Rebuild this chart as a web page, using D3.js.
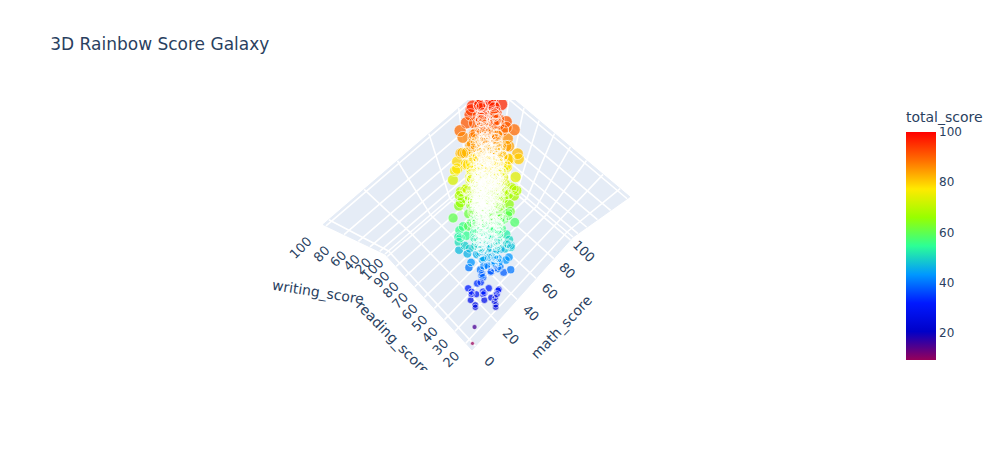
<!DOCTYPE html>
<html>
  <body style="margin:0;background:#fff">
    <script src="https://d3js.org/d3.v7.min.js"></script>
    <script type="text/javascript">
      const mathScore = [
        100,86,92,96,85,90,96,95,85,77,82,98,96,76,93,91,70,73,90,92,
        91,87,66,62,58,84,84,57,55,51,80,77,79,72,70,55,44,68,42,39,
        37,60,45,57,57,54,34,39,36,50,48,44,31,34,35,39,43,43,33,30,
        28,22,31,34,32,21,23,26,27,24,18,28,28,27,26,17,8,0,100,99,
        97,88,94,100,91,
        72,69,90,47,76,71,88,40,64,38, 58,40,65,78,50,69,88,18,46,54,
        66,65,44,69,74,73,69,67,70,62, 69,63,56,40,97,81,74,50,75,57,
        55,58,53,59,50,65,55,66,57,82, 53,77,53,88,71,33,82,52,58,79,
        39,62,69,59,67,45,60,61,39,58, 63,41,61,49,44,30,80,61,62,47,
        49,50,72,42,73,76,71,58,73,65, 27,71,43,79,78,65,63,58,65,79,
        68,85,60,98,58,87,66,52,70,77, 62,54,51,99,84,75,78,51,55,79,
        91,88,63,83,87,72,65,82,51,89, 53,87,75,74,58,51,70,59,71,76,
        59,42,57,88,22,88,73,68,100,62, 77,59,54,62,70,66,60,61,66,82,
        75,49,52,81,96,53,58,68,67,72, 94,79,63,43,81,46,71,52,97,62,
        46,50,65,45,65,80,62,48,77,66, 76,62,77,69,61,59,55,45,78,67,
        65,69,57,59,74,82,81,74,58,80, 35,42,60,87,84,83,34,66,61,56,
        87,55,86,52,45,72,57,68,88,76, 46,67,92,83,80,63,64,54,84,73,
        80,56,59,75,85,89,58,65,68,47, 71,60,80,54,62,64,78,70,65,64,
        68,74,57,63,71,66,79,60,55,84, 61,77,70,58,82,67,64,75,73,56,
        83,62,69,72,51,78,66,87,60,74, 65,70,76,59,68,81,57,73,62,79,
        54,67,75,63,86,71,60,69,77,64, 72,58,66,80,55,74,69,61,85,70,
        64,78,52,69,73,83,59,67,76,62, 77,63,68,56,81,65,72,88,60,71,
        66,74,61,79,57,69,84,63,75,53, 70,59,82,67,76,64,73,55,78,61,
        85,72,65,60,77,68,58,74,67,80, 51,64,71,75,62,83,69,56,79,66,
        73,60,67,86,55,70,78,63,92,68, 58,76,64,72,81,61,69,74,50,66,
        90,63,71,57,75,67,84,60,78,48, 69,80,56,65,73,62,77,83,47,70,
        61,75,68,54,79,66,71,59,86,64, 43,48,52,57,60,44,49,55,53,62,
        56,47,64,50,59,46,54,41,61,52, 91,94,86,93,89,97,85,90,95,92,
        82,86,78,90,84,75,88,92,80,83,
        40,44,47,51,38,45,49,42,53,46, 55,48,43,52,58,46,50,60,44,54,
        49,57,62,45,53,66,51,59,48,56, 60,52,47,64,56,50,68,58,63,45,
        71,57,64,79,53,68,74,61,83,66, 76,62,70,85,59,73,80,66,88,55,
        80,67,90,73,63,78,86,70,58,94, 56,69,74,61,49,66,78,52,71,59,
        43,50,55,47,60,41,52,57,46,63, 67,73,58,79,64,53,70,82,60,75
      ];
      const readingScore = [
        92,100,100,97,100,96,92,89,97,100,100,80,84,97,80,77,93,91,78,71,
        69,73,92,90,88,64,71,81,80,77,59,58,62,57,54,78,75,48,68,66,
        64,47,68,42,40,42,61,57,56,37,31,33,50,51,44,39,37,40,40,39,
        40,42,33,28,27,38,36,33,33,30,36,28,25,23,22,31,23,17,100,100,
        94,95,90,97,97,
        72,90,95,57,78,83,95,43,64,60, 54,52,81,72,53,75,89,32,42,58,
        69,75,54,73,71,74,54,69,70,70, 74,65,72,42,87,81,81,64,90,56,
        61,73,58,65,56,54,65,71,74,84, 55,69,44,78,84,41,85,55,59,74,
        39,61,80,58,64,37,72,58,64,63, 55,51,57,49,41,26,78,74,68,49,
        45,47,64,39,80,83,71,70,86,72, 34,79,45,86,81,66,72,67,67,67,
        74,91,44,86,67,100,63,76,64,89, 55,53,58,100,77,85,82,63,69,92,
        89,93,57,80,95,68,77,82,49,84, 37,74,81,79,55,54,55,66,61,72,
        62,55,43,73,39,84,68,75,100,67, 67,70,49,67,89,74,60,86,62,78,
        88,53,53,92,100,51,76,83,75,73, 88,86,67,51,91,54,77,70,100,68,
        64,50,69,52,67,76,66,52,88,65, 83,64,62,84,55,69,56,53,79,84,
        81,77,69,41,71,62,80,81,61,79, 28,62,51,91,83,86,42,77,56,68,
        85,65,80,66,56,72,50,72,95,64, 43,86,87,82,75,66,60,48,73,78,
        72,58,78,84,78,84,78,67,64,46, 72,68,73,48,56,74,69,75,67,79,
        73,70,68,71,69,78,77,66,61,85, 69,73,76,71,79,66,72,77,80,60,
        87,71,65,81,60,76,73,82,64,76, 72,74,73,67,70,84,63,69,73,71,
        62,64,79,61,90,74,70,78,81,68, 77,64,75,74,59,68,66,75,86,79,
        71,81,64,73,71,77,72,61,70,63, 82,70,77,65,75,74,70,90,67,66,
        68,80,71,83,58,79,79,62,72,66, 73,66,85,72,69,75,82,68,84,60,
        89,75,78,70,78,63,69,66,79,85, 57,73,80,70,72,88,68,62,87,76,
        76,69,62,84,63,78,75,74,89,71, 67,81,66,69,83,71,74,72,58,72,
        92,65,74,66,79,72,88,64,73,55, 72,83,64,76,66,66,80,80,54,76,
        61,68,78,59,82,70,68,60,81,65, 50,58,60,63,64,52,56,54,48,70,
        56,53,68,58,57,57,61,47,62,60, 96,92,90,90,98,95,92,97,93,100,
        90,83,85,88,91,83,94,86,87,89,
        47,52,49,56,44,44,55,51,52,43, 61,57,53,47,52,58,60,53,55,63,
        62,50,54,59,65,58,63,70,60,53, 71,64,61,55,68,66,60,73,54,58,
        81,72,75,69,66,83,64,76,74,81, 86,77,81,76,72,87,71,81,80,70,
        91,81,85,68,77,92,78,85,75,90, 63,62,67,70,60,60,70,66,64,67,
        42,45,49,41,54,48,46,52,39,57, 60,68,51,73,58,48,64,76,55,70
      ];
      const writingScore = [
        97,98,96,96,95,93,94,92,91,89,91,89,89,87,86,84,82,82,84,82,
        80,80,79,76,73,74,77,69,68,64,69,68,70,65,62,67,60,58,55,53,
        51,53,56,50,49,48,47,48,46,43,40,38,40,43,40,39,40,41,37,34,
        34,32,32,31,30,30,30,29,29,27,27,28,27,25,24,24,15,10,100,100,
        95,92,91,99,99,
        74,88,93,44,75,78,92,39,67,50, 52,43,73,70,58,78,86,28,46,61,
        63,70,53,73,80,72,55,75,65,75, 74,61,65,38,82,79,83,59,88,57,
        54,68,65,66,54,57,62,76,76,82, 48,68,42,75,87,43,86,49,58,72,
        34,55,71,59,61,37,74,56,57,73, 63,48,56,41,38,22,81,72,68,50,
        45,54,63,34,82,88,74,67,82,74, 36,71,50,92,82,62,70,62,62,67,
        74,89,47,90,72,100,61,70,72,98, 49,47,54,100,74,82,79,61,65,89,
        92,93,56,73,86,67,74,74,51,82, 40,70,71,80,48,41,56,67,69,71,
        64,54,47,78,33,75,66,81,93,69, 68,66,47,61,88,78,60,87,64,74,
        85,52,49,91,100,51,78,78,70,74, 78,81,70,54,87,58,77,62,100,75,
        66,47,70,49,65,65,68,45,87,69, 79,66,62,85,52,65,51,55,76,86,
        77,69,68,42,78,62,76,76,66,79, 27,60,56,81,75,88,39,70,56,74,
        73,62,75,73,54,71,54,64,94,66, 42,83,78,84,77,67,74,52,69,72,
        75,70,76,80,87,77,76,65,62,46, 74,61,70,52,53,74,68,78,61,81,
        75,72,64,68,66,73,80,64,62,80, 66,70,79,70,76,69,75,74,77,58,
        85,66,68,79,63,80,71,84,63,70, 69,71,75,64,72,88,66,71,67,78,
        60,68,77,60,83,73,67,76,83,71, 80,61,72,78,57,71,70,70,89,75,
        66,79,59,70,74,80,69,65,74,65, 78,67,73,67,79,71,73,87,64,69,
        72,77,68,80,61,75,83,68,78,63, 68,62,81,74,72,70,79,64,82,59,
        92,79,74,65,75,67,66,69,72,83, 55,70,77,73,69,85,71,60,84,74,
        71,65,66,89,60,74,81,70,91,70, 63,78,70,68,86,66,70,75,54,75,
        93,62,72,61,81,69,86,62,77,51, 74,80,61,73,69,67,82,85,52,73,
        64,71,75,56,77,65,66,63,84,69, 48,55,57,61,66,47,53,58,50,68,
        52,51,66,54,60,51,58,45,59,55, 94,95,93,97,92,96,89,98,91,96,
        85,90,83,85,88,86,90,94,84,86,
        45,48,46,52,42,47,51,46,50,47, 56,52,50,50,56,52,55,58,49,57,
        55,53,59,54,60,60,56,64,55,58, 65,58,54,60,62,57,63,66,58,53,
        76,66,71,73,60,74,70,69,78,73, 79,70,76,82,65,79,75,72,84,62,
        84,75,87,71,70,84,82,77,67,92, 60,66,70,65,56,62,74,57,67,63,
        44,47,51,45,57,45,49,54,43,60, 64,71,56,76,61,50,66,79,57,73
      ];
      const totalScore = [
        96,95,96,96,93,93,94,92,91,89,91,89,89,87,86,84,82,82,84,82,
        80,80,79,76,73,74,77,69,68,64,69,68,70,65,62,67,60,58,55,53,
        51,53,56,50,49,48,47,48,46,43,40,38,40,43,40,39,40,41,37,34,
        34,32,32,31,30,30,30,29,29,27,27,28,27,25,24,24,15,9,100,100,
        95,92,92,99,96,
        73,82,93,49,76,77,92,41,65,49, 55,45,73,73,54,74,88,26,45,58,
        66,70,50,72,75,73,59,70,68,69, 72,63,64,40,89,80,79,58,84,57,
        57,66,59,63,53,59,61,71,69,83, 52,71,46,80,81,39,84,52,58,75,
        37,59,73,59,64,40,69,58,53,65, 60,47,58,46,41,26,80,69,66,49,
        46,50,66,38,78,82,72,65,80,70, 32,74,46,85,80,64,68,62,65,71,
        71,88,50,91,65,96,63,66,69,88, 55,51,54,100,78,81,80,58,63,87,
        91,91,59,79,89,69,72,79,50,85, 43,77,76,78,54,49,60,64,67,73,
        62,50,49,80,31,82,69,75,98,66, 71,65,50,63,82,73,60,78,64,78,
        83,51,51,88,99,52,71,76,71,73, 87,82,67,49,86,53,75,61,99,68,
        59,49,68,49,66,74,65,48,84,67, 79,64,67,79,56,64,54,51,78,79,
        74,72,65,47,74,69,79,77,62,79, 30,55,56,86,81,86,38,71,58,66,
        82,61,80,64,52,72,54,68,92,69, 44,79,86,83,77,65,66,51,75,74,
        76,61,71,80,83,83,71,65,64,46, 73,63,74,51,57,71,72,74,64,74,
        72,72,63,67,69,72,79,63,59,83, 65,73,75,66,79,67,70,75,77,58,
        85,66,67,77,58,78,70,84,62,73, 69,72,75,63,70,84,62,71,67,76,
        59,66,77,61,86,73,66,74,80,68, 76,61,71,77,57,71,68,69,87,75,
        67,79,58,71,73,80,67,64,73,63, 79,67,73,63,78,70,72,88,64,69,
        69,77,67,81,59,74,82,64,75,61, 70,62,83,71,72,70,78,62,81,60,
        89,75,72,65,77,66,64,70,73,83, 54,69,76,73,68,85,69,59,83,72,
        73,65,65,86,59,74,78,69,91,69, 63,78,67,70,83,66,71,74,54,71,
        92,63,72,61,78,69,86,62,76,51, 72,81,60,71,69,65,79,83,51,73,
        62,71,74,56,79,67,68,61,84,66, 47,54,56,60,63,48,53,56,50,67,
        55,50,66,54,59,51,58,44,61,56, 94,94,90,93,93,96,89,95,93,96,
        86,86,82,88,88,81,91,91,84,86,
        44,48,47,53,41,45,52,46,52,45, 57,52,49,50,55,52,55,57,49,58,
        55,53,58,53,59,61,57,64,54,56, 65,58,54,60,62,58,64,66,58,52,
        76,65,70,74,60,75,69,69,78,73, 80,70,76,81,65,79,75,73,84,62,
        85,74,87,71,70,85,82,77,67,92, 60,66,70,65,55,63,74,58,67,63,
        43,47,52,44,57,45,49,54,43,60, 64,71,55,76,61,50,67,79,57,73
      ];

      const mathTicks = [0, 20, 40, 60, 80, 100];
      const readingTicks = [20, 30, 40, 50, 60, 70, 80, 90, 100];
      const writingTicks = [20, 40, 60, 80, 100];
      const colorTicks = [20, 40, 60, 80, 100];
      const rainbow = ['rgb(150,0,90)', 'rgb(0,0,200)', 'rgb(0,25,255)', 'rgb(0,152,255)', 'rgb(44,255,150)',
        'rgb(151,255,0)', 'rgb(255,234,0)', 'rgb(255,111,0)', 'rgb(255,0,0)'];

      const width = 1006;
      const height = 450;
      const ink = '#2a3f5f';
      const font = '"DejaVu Sans", verdana, arial, sans-serif';

      // where the box corners land on screen: floor corners and the point the vertical edges run to
      const near = [472, 350], right = [573, 237], left = [385, 254], far = [488, 165.5];
      const vanish = [483, 300.6];
      const depth = 0.387;

      const uScale = d3.scaleLinear().domain([-3.125, 103.125]).range([0, 1]);
      const vScale = d3.scaleLinear().domain([14.4, 102.6]).range([0, 1]);
      const wScale = d3.scaleLinear().domain([7.19, 102.81]).range([0, 1]);

      // unit square to floor quad
      function floorMap() {
        const dx1 = right[0] - far[0], dx2 = left[0] - far[0], sx = near[0] - right[0] + far[0] - left[0];
        const dy1 = right[1] - far[1], dy2 = left[1] - far[1], sy = near[1] - right[1] + far[1] - left[1];
        const den = dx1 * dy2 - dx2 * dy1;
        const g = (sx * dy2 - dx2 * sy) / den;
        const h = (dx1 * sy - sx * dy1) / den;
        const a = right[0] - near[0] + g * right[0], b = left[0] - near[0] + h * left[0];
        const d = right[1] - near[1] + g * right[1], e = left[1] - near[1] + h * left[1];
        return (u, v) => {
          const q = g * u + h * v + 1;
          return [(a * u + b * v + near[0]) / q, (d * u + e * v + near[1]) / q];
        };
      }
      const floorAt = floorMap();

      function project(u, v, w) {
        const p = floorAt(u, v);
        const s = 1 / (1 - depth * w);
        return [vanish[0] + (p[0] - vanish[0]) * s, vanish[1] + (p[1] - vanish[1]) * s];
      }

      const colorDomain = d3.range(rainbow.length).map((i) => 9 + i * 91 / (rainbow.length - 1));
      const color = d3.scaleLinear().domain(colorDomain).range(rainbow);
      const radius = d3.scaleSqrt().domain([0, 100]).range([0, 6.4]);

      const svg = d3.select('body')
        .append('svg')
        .attr('width', width)
        .attr('height', height)
        .style('display', 'block')
        .style('font-family', font);

      svg.append('clipPath').attr('id', 'scene')
        .append('rect').attr('x', 0).attr('y', 100).attr('width', 880).attr('height', 270);

      const scene = svg.append('g').attr('clip-path', 'url(#scene)');
      const line = d3.line();

      // panels
      const panels = [
        [[0, 0, 0], [1, 0, 0], [1, 1, 0], [0, 1, 0]],
        [[0, 1, 0], [1, 1, 0], [1, 1, 1], [0, 1, 1]],
        [[1, 0, 0], [1, 1, 0], [1, 1, 1], [1, 0, 1]]
      ];
      scene.append('g').selectAll('path')
        .data(panels)
        .enter()
        .append('path')
        .attr('d', (d) => line(d.map((c) => project(c[0], c[1], c[2]))) + 'Z')
        .attr('fill', '#E5ECF6')
        .attr('stroke', '#E5ECF6')
        .attr('stroke-width', 1);

      // grid
      const grid = [];
      mathTicks.forEach((t) => {
        const u = uScale(t);
        grid.push([[u, 0, 0], [u, 1, 0], [u, 1, 1]]);
      });
      readingTicks.forEach((t) => {
        const v = vScale(t);
        grid.push([[0, v, 0], [1, v, 0], [1, v, 1]]);
      });
      writingTicks.forEach((t) => {
        const w = wScale(t);
        grid.push([[0, 1, w], [1, 1, w], [1, 0, w]]);
      });
      grid.push([[0, 1, 0], [1, 1, 0], [1, 0, 0]]);
      scene.append('g').selectAll('path')
        .data(grid)
        .enter()
        .append('path')
        .attr('d', (d) => line(d.map((c) => project(c[0], c[1], c[2]))))
        .attr('fill', 'none')
        .attr('stroke', '#fff')
        .attr('stroke-width', 1.6);

      const points = mathScore.map((m, i) => {
        const p = project(uScale(m), vScale(readingScore[i]), wScale(writingScore[i]));
        return { x: p[0], y: p[1], total: totalScore[i] };
      });

      // fills first, all the white rings above them
      scene.append('g').selectAll('circle')
        .data(points)
        .enter()
        .append('circle')
        .attr('cx', (d) => d.x)
        .attr('cy', (d) => d.y)
        .attr('r', (d) => radius(d.total))
        .attr('fill', (d) => color(d.total))
        .attr('fill-opacity', 0.75);
      scene.append('g').selectAll('circle')
        .data(points)
        .enter()
        .append('circle')
        .attr('cx', (d) => d.x)
        .attr('cy', (d) => d.y)
        .attr('r', (d) => radius(d.total))
        .attr('fill', 'none')
        .attr('stroke', '#fff')
        .attr('stroke-opacity', 0.55)
        .attr('stroke-width', 1);

      // tick labels
      function tickLabels(ticks, place, angle) {
        scene.append('g').selectAll('text')
          .data(ticks)
          .enter()
          .append('text')
          .attr('transform', (t) => {
            const p = place(t);
            return `translate(${p[0]},${p[1]}) rotate(${angle})`;
          })
          .attr('text-anchor', 'middle')
          .attr('dy', '0.35em')
          .attr('font-size', 13)
          .attr('fill', ink)
          .text((t) => t);
      }
      tickLabels(mathTicks, (t) => project(uScale(t), -0.14, 0), 45);
      tickLabels(readingTicks, (t) => project(-0.12, vScale(t), 0), -45);
      tickLabels(writingTicks, (t) => project(-0.13, 1, wScale(t)), -45);

      // axis titles
      const axisTitles = [
        { text: 'math_score', x: 561.5, y: 327, angle: -46.5 },
        { text: 'reading_score', x: 393, y: 338, angle: 45.5 },
        { text: 'writing_score', x: 318, y: 292, angle: 9 }
      ];
      scene.append('g').selectAll('text')
        .data(axisTitles)
        .enter()
        .append('text')
        .attr('transform', (d) => `translate(${d.x},${d.y}) rotate(${d.angle})`)
        .attr('text-anchor', 'middle')
        .attr('dy', '0.35em')
        .attr('font-size', 14)
        .attr('fill', ink)
        .text((d) => d.text);

      // chart title
      svg.append('text')
        .attr('x', 50.3)
        .attr('y', 50)
        .attr('font-size', 17)
        .attr('fill', ink)
        .text('3D Rainbow Score Galaxy');

      // colorbar
      const barY = d3.scaleLinear().domain([9, 100]).range([360, 132]);
      const gradient = svg.append('defs').append('linearGradient')
        .attr('id', 'rainbow')
        .attr('x1', 0).attr('y1', 1).attr('x2', 0).attr('y2', 0);
      gradient.selectAll('stop')
        .data(rainbow)
        .enter()
        .append('stop')
        .attr('offset', (d, i) => i / (rainbow.length - 1))
        .attr('stop-color', (d) => d);
      svg.append('rect')
        .attr('x', 906)
        .attr('y', barY(100))
        .attr('width', 30)
        .attr('height', barY(9) - barY(100))
        .attr('fill', 'url(#rainbow)');
      const barAxis = svg.append('g')
        .attr('transform', 'translate(936,0)')
        .call(d3.axisRight(barY).tickValues(colorTicks).tickSize(0).tickPadding(3));
      barAxis.select('.domain').remove();
      barAxis.selectAll('text')
        .attr('font-family', font)
        .attr('font-size', 12)
        .attr('fill', ink);
      svg.append('text')
        .attr('x', 906)
        .attr('y', 122)
        .attr('font-size', 14)
        .attr('fill', ink)
        .text('total_score');
    </script>
  </body>
</html>
